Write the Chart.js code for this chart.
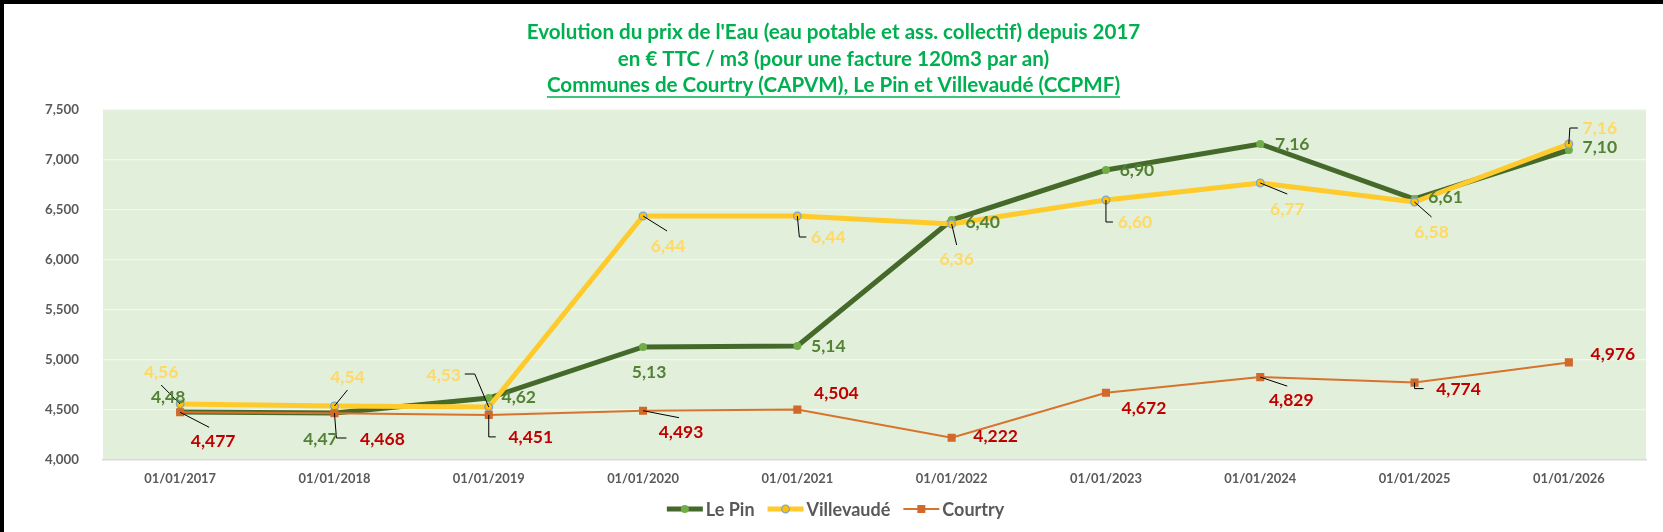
<!DOCTYPE html>
<html>
<head>
<meta charset="utf-8">
<script src="https://cdn.jsdelivr.net/npm/chart.js@4.4.1/dist/chart.umd.min.js"></script>
<style>
  html, body { margin: 0; padding: 0; background: #ffffff; }
  #wrap { position: relative; width: 1663px; height: 532px; }
  canvas { display: block; }
</style>
</head>
<body>
<div id="wrap"><canvas id="c" width="1663" height="532"></canvas></div>
<script>
// ---------- DATA ----------
const categories = ['01/01/2017','01/01/2018','01/01/2019','01/01/2020','01/01/2021',
                    '01/01/2022','01/01/2023','01/01/2024','01/01/2025','01/01/2026'];
const lePin      = [4.48, 4.47, 4.62, 5.13, 5.14, 6.40, 6.90, 7.16, 6.61, 7.10];
const villevaude = [4.56, 4.54, 4.53, 6.44, 6.44, 6.36, 6.60, 6.77, 6.58, 7.16];
const courtry    = [4.477, 4.468, 4.451, 4.493, 4.504, 4.222, 4.672, 4.829, 4.774, 4.976];
const seriesNames = ['Le Pin', 'Villevaudé', 'Courtry'];
const titleLines = [
  "Evolution du prix de l'Eau (eau potable et ass. collectif) depuis 2017",
  "en € TTC / m3 (pour une facture 120m3 par an)",
  "Communes de Courtry (CAPVM), Le Pin et Villevaudé (CCPMF)"
];
const yMin = 4, yMax = 7.5, yStep = 0.5;

// ---------- LABEL PLACEMENT (styling, pixel offsets from each point) ----------
const lePinLabelOffsets = [[-12,-15],[-14,26],[30,-1],[6,25],[31,0],[31,2],[31,0],[32,0],[31,-2],[31,-3]];
const villeLabelOffsets = [[-19,-32],[13,-29],[-45,-32],[25,30],[31,21],[5,35],[29,22],[27,26],[17,30],[31,-16]];
const courtryLabelOffsets = [[33,29],[48,26],[42,22],[38,22],[39,-16],[44,-1],[38,16],[31,23],[44,7],[44,-8]];
const lePinLeaders = [null,[[0,0],[2,25],[12,25]],null,null,null,null,null,null,null,null];
const villeLeaders = [[[0,0],[-19,-19]],[[0,0],[13,-16]],[[0,0],[-14,-33],[-24,-33]],[[0,0],[24,15]],
                      [[0,0],[2,21],[9,21]],[[0,0],[5,21]],[[0,0],[0,22],[7,22]],[[0,0],[27,11]],
                      [[0,0],[17,15]],[[0,0],[1,-16],[9,-16]]];
const courtryLeaders = [[[0,0],[29,15]],null,[[0,0],[0,22],[7,22]],[[0,0],[36,7]],null,null,null,
                        [[0,0],[27,9]],[[0,0],[0,6],[9,6]],null];

const FONT = 'Lato, "Open Sans", sans-serif';
const fmt = (v, d) => v.toFixed(d).replace('.', ',');

// ---------- PLUGINS ----------
const framePlugin = {
  id: 'frame',
  beforeDraw(chart) {
    const {ctx, chartArea: a} = chart;
    ctx.save();
    ctx.fillStyle = '#ffffff';
    ctx.fillRect(0, 0, chart.width, chart.height);
    ctx.fillStyle = '#E2EFDA';
    ctx.fillRect(a.left, a.top, a.right - a.left, a.bottom - a.top);
    ctx.restore();
  },
  afterDraw(chart) {
    const ctx = chart.ctx;
    ctx.save();
    ctx.fillStyle = '#000000';
    ctx.fillRect(0, 0, chart.width, 4);
    ctx.fillRect(0, 0, 4, chart.height);
    ctx.restore();
  }
};

const titlePlugin = {
  id: 'xlTitle',
  afterDraw(chart) {
    const ctx = chart.ctx;
    const cx = chart.width / 2 + 2;
    const ys = [32, 59, 85];
    ctx.save();
    ctx.fillStyle = '#00B050';
    ctx.strokeStyle = '#00B050';
    ctx.font = 'bold 20.6px ' + FONT;
    ctx.textAlign = 'center';
    ctx.textBaseline = 'middle';
    titleLines.forEach((t, i) => {
      ctx.fillText(t, cx, ys[i]);
      if (i === 2) {
        const w = ctx.measureText(t).width;
        ctx.lineWidth = 1.4;
        ctx.beginPath();
        ctx.moveTo(cx - w / 2, ys[i] + 12);
        ctx.lineTo(cx + w / 2, ys[i] + 12);
        ctx.stroke();
      }
    });
    ctx.restore();
  }
};

const labelPlugin = {
  id: 'xlLabels',
  afterDatasetsDraw(chart) {
    const ctx = chart.ctx;
    const cfgs = [
      {ds: 0, off: lePinLabelOffsets, lead: lePinLeaders, color: '#538135', dec: 2},
      {ds: 1, off: villeLabelOffsets, lead: villeLeaders, color: '#FFD966', dec: 2},
      {ds: 2, off: courtryLabelOffsets, lead: courtryLeaders, color: '#C00000', dec: 3}
    ];
    ctx.save();
    ctx.strokeStyle = '#000000';
    ctx.lineWidth = 1;
    cfgs.forEach(c => {
      const meta = chart.getDatasetMeta(c.ds);
      meta.data.forEach((pt, i) => {
        const L = c.lead[i];
        if (!L) return;
        ctx.beginPath();
        L.forEach((p, k) => {
          const x = pt.x + p[0], y = pt.y + p[1];
          if (k === 0) ctx.moveTo(x, y); else ctx.lineTo(x, y);
        });
        ctx.stroke();
      });
    });
    ctx.font = 'bold 17.5px ' + FONT;
    ctx.textAlign = 'center';
    ctx.textBaseline = 'middle';
    cfgs.forEach(c => {
      const meta = chart.getDatasetMeta(c.ds);
      const data = chart.data.datasets[c.ds].data;
      ctx.fillStyle = c.color;
      meta.data.forEach((pt, i) => {
        const o = c.off[i];
        ctx.fillText(fmt(data[i], c.dec), pt.x + o[0], pt.y + o[1]);
      });
    });
    ctx.restore();
  }
};

const legendPlugin = {
  id: 'xlLegend',
  afterDraw(chart) {
    const ctx = chart.ctx;
    const items = chart.data.datasets.map(d => d);
    const y = 509;
    const sample = 36, gapText = 3, gapItem = 13;
    ctx.save();
    ctx.font = 'bold 18px ' + FONT;
    ctx.textBaseline = 'middle';
    ctx.textAlign = 'left';
    const widths = items.map(d => sample + gapText + ctx.measureText(d.label).width);
    const total = widths.reduce((a, b) => a + b, 0) + gapItem * (items.length - 1);
    let x = chart.width / 2 + 4 - total / 2;
    items.forEach((d, i) => {
      ctx.strokeStyle = d.borderColor;
      ctx.lineWidth = d.borderWidth;
      ctx.beginPath();
      ctx.moveTo(x, y);
      ctx.lineTo(x + sample, y);
      ctx.stroke();
      const mx = x + sample / 2;
      ctx.fillStyle = d.pointBackgroundColor;
      if (d.pointStyle === 'rect') {
        ctx.fillRect(mx - 4, y - 4, 8, 8);
      } else {
        ctx.beginPath();
        ctx.arc(mx, y, d.pointRadius, 0, Math.PI * 2);
        ctx.fill();
        if (d.pointBorderWidth) {
          ctx.strokeStyle = d.pointBorderColor;
          ctx.lineWidth = d.pointBorderWidth;
          ctx.stroke();
        }
      }
      ctx.fillStyle = '#595959';
      ctx.fillText(d.label, x + sample + gapText, y + 1);
      x += widths[i] + gapItem;
    });
    ctx.restore();
  }
};

// ---------- CHART ----------
new Chart(document.getElementById('c'), {
  type: 'line',
  data: {
    labels: categories,
    datasets: [
      {
        label: seriesNames[0], data: lePin, order: 3,
        borderColor: '#44692A', borderWidth: 5,
        pointRadius: 4, pointBackgroundColor: '#70AD47', pointBorderColor: '#70AD47', pointBorderWidth: 0,
        pointStyle: 'circle', tension: 0
      },
      {
        label: seriesNames[1], data: villevaude, order: 2,
        borderColor: '#FFCA2B', borderWidth: 5,
        pointRadius: 3.8, pointBackgroundColor: '#FFC000', pointBorderColor: '#7FA3D0', pointBorderWidth: 1.3,
        pointStyle: 'circle', tension: 0
      },
      {
        label: seriesNames[2], data: courtry, order: 1,
        borderColor: '#D8732E', borderWidth: 2,
        pointRadius: 5.7, pointBackgroundColor: '#D0692A', pointBorderColor: '#D0692A', pointBorderWidth: 0,
        pointStyle: 'rect', tension: 0
      }
    ]
  },
  options: {
    responsive: false,
    animation: false,
    devicePixelRatio: 1,
    layout: { padding: { left: 0, top: 110, right: 17, bottom: 0 } },
    plugins: {
      legend: { display: false },
      title: { display: false },
      tooltip: { enabled: false }
    },
    scales: {
      x: {
        offset: true,
        grid: { display: false, drawTicks: false },
        border: { display: true, color: '#D9D9D9', width: 1.5 },
        ticks: { color: '#595959', font: { family: FONT, size: 12.9, weight: 'bold' }, padding: 11, maxRotation: 0, autoSkip: false },
        afterFit(s) { s.height = 72; }
      },
      y: {
        min: yMin, max: yMax,
        grid: {
          drawTicks: false,
          color: ctx => ctx.tick && ctx.tick.value === yMin ? 'rgba(0,0,0,0)' : '#F3F7F0',
          lineWidth: 1.2
        },
        border: { display: false },
        ticks: {
          stepSize: yStep, color: '#595959', padding: 24,
          font: { family: FONT, size: 13.3, weight: 'bold' },
          callback: v => fmt(v, 3)
        },
        afterFit(s) { s.width = 103; }
      }
    }
  },
  plugins: [framePlugin, titlePlugin, labelPlugin, legendPlugin]
});
</script>
</body>
</html>
